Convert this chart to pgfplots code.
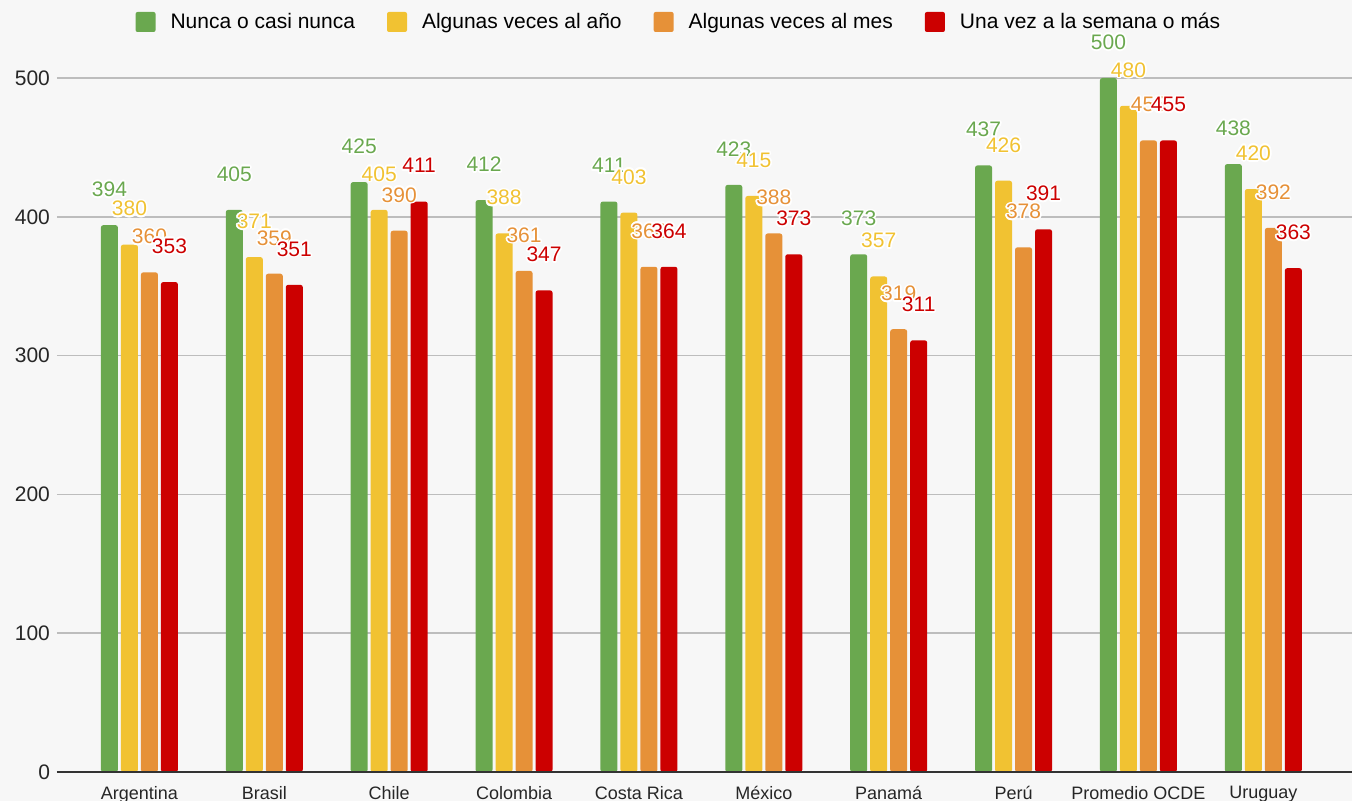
\documentclass[border=0pt]{standalone}
\usepackage{fontspec}
\setmainfont{Liberation Sans}
\usepackage{pgfplots}
\pgfplotsset{compat=1.18}
\usepackage{contour}
\contourlength{0.8pt}
\contournumber{16}

\definecolor{cgreen}{HTML}{6AA84F}
\definecolor{cyellow}{HTML}{F1C232}
\definecolor{corange}{HTML}{E69138}
\definecolor{cred}{HTML}{CC0000}
\definecolor{bgcol}{HTML}{F7F7F7}
\definecolor{gridcol}{HTML}{BDBDBD}
\definecolor{zerocol}{HTML}{333333}

\begin{document}
\begin{tikzpicture}
% page background, same box as the final bounding box
\fill[bgcol] (-28.5pt,-14.5pt) rectangle (647.5pt,386pt);
\begin{axis}[
  at={(0,0)}, anchor=south west,
  scale only axis,
  width=647.5pt, height=347pt,
  ybar=1.5pt, bar width=8.5pt,
  xmin=-0.66, xmax=9.71,
  ymin=0, ymax=500,
  xtick={0,...,9},
  xticklabels={Argentina,Brasil,Chile,Colombia,Costa Rica,México,Panamá,Perú,Promedio OCDE,Uruguay},
  ytick={0,100,...,500},
  ymajorgrids,
  major grid style={draw=gridcol, line width=0.75pt},
  axis line style={draw=none},
  major tick style={draw=none},
  tick label style={font=\fontsize{10.5}{12}\selectfont, text=black!85},
  xticklabel style={font=\fontsize{9}{11}\selectfont, yshift=0.5pt},
  /pgf/number format/assume math mode=true,
  clip=false,
  nodes near coords={\contour{white}{\pgfmathprintnumber{\pgfplotspointmeta}}},
  every node near coord/.append style={font=\fontsize{10.5}{12}\selectfont,
    anchor=center, inner sep=0pt, yshift=17.5pt},
  legend columns=4,
  legend style={at={(0.481,1.0807)}, anchor=center, draw=none, fill=none,
    font=\fontsize{10.5}{12}\selectfont,
    /tikz/every odd column/.append style={column sep=5.5pt},
    /tikz/every even column/.append style={column sep=14pt}},
  legend image code/.code={\fill[#1, rounded corners=1pt] (0pt,-5pt) rectangle (10pt,5pt);},
]
\addplot[fill=cgreen, draw=none, rounded corners=1.2pt,
  every node near coord/.append style={text=cgreen}]
  coordinates {(0,394) (1,405) (2,425) (3,412) (4,411) (5,423) (6,373) (7,437) (8,500) (9,438)};
\addlegendentry{Nunca o casi nunca}
\addplot[fill=cyellow, draw=none, rounded corners=1.2pt,
  every node near coord/.append style={text=cyellow}]
  coordinates {(0,380) (1,371) (2,405) (3,388) (4,403) (5,415) (6,357) (7,426) (8,480) (9,420)};
\addlegendentry{Algunas veces al año}
\addplot[fill=corange, draw=none, rounded corners=1.2pt,
  every node near coord/.append style={text=corange}]
  coordinates {(0,360) (1,359) (2,390) (3,361) (4,364) (5,388) (6,319) (7,378) (8,455) (9,392)};
\addlegendentry{Algunas veces al mes}
\addplot[fill=cred, draw=none, rounded corners=1.2pt,
  every node near coord/.append style={text=cred}]
  coordinates {(0,353) (1,351) (2,411) (3,347) (4,364) (5,373) (6,311) (7,391) (8,455) (9,363)};
\addlegendentry{Una vez a la semana o más}
\draw[zerocol, line width=1pt] (axis cs:-0.66,0) -- (axis cs:9.71,0);
\end{axis}
\pgfresetboundingbox
\path[use as bounding box] (-28.5pt,-14.5pt) rectangle (647.5pt,386pt);
\end{tikzpicture}
\end{document}
